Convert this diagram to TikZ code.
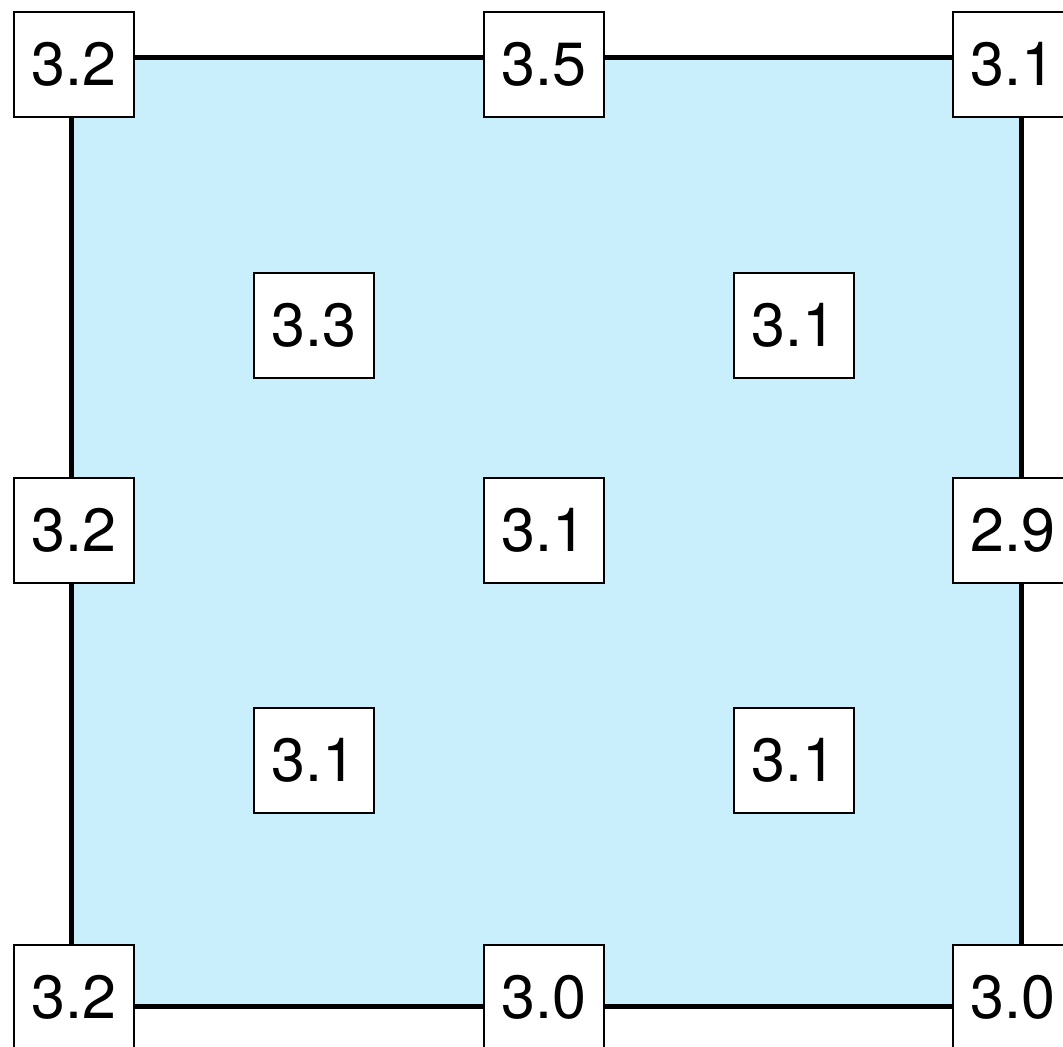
\documentclass[tikz,border=0pt]{standalone}
\usepackage{fontspec}
\setmainfont{TeX Gyre Heros}
\definecolor{paneblue}{RGB}{201,238,252}
\begin{document}
\begin{tikzpicture}[x=0.5pt,y=-0.5pt,
  valbox/.style={draw=black,fill=white,line width=1pt,minimum width=60pt,minimum height=52.5pt,inner sep=0pt,font=\fontsize{30.5pt}{36pt}\selectfont},
  edge/.style={draw=black,line width=2.5pt}]
\useasboundingbox (0,0) rectangle (1063,1046);
\clip (0,0) rectangle (1063,1046);
\coordinate (c1) at (71,57);
\coordinate (c2) at (1021,57);
\coordinate (c3) at (1021,1006);
\coordinate (c4) at (71,1006);
\fill[paneblue] (c1) rectangle (c3);
\draw[edge] (c1) -- (c2) -- (c3) -- (c4) -- cycle;
\node[valbox] (tl) at (74,64) {3.2};
\node[valbox] (tm) at (544,64) {3.5};
\node[valbox] (tr) at (1013,64) {3.1};
\node[valbox] (ml) at (74,530) {3.2};
\node[valbox] (mm) at (544,530) {3.1};
\node[valbox] (mr) at (1013,530) {2.9};
\node[valbox] (bl) at (74,997) {3.2};
\node[valbox] (bm) at (544,997) {3.0};
\node[valbox] (br) at (1013,997) {3.0};
\node[valbox] (a) at (314,325) {3.3};
\node[valbox] (b) at (794,325) {3.1};
\node[valbox] (c) at (314,760) {3.1};
\node[valbox] (d) at (794,760) {3.1};
\end{tikzpicture}
\end{document}
